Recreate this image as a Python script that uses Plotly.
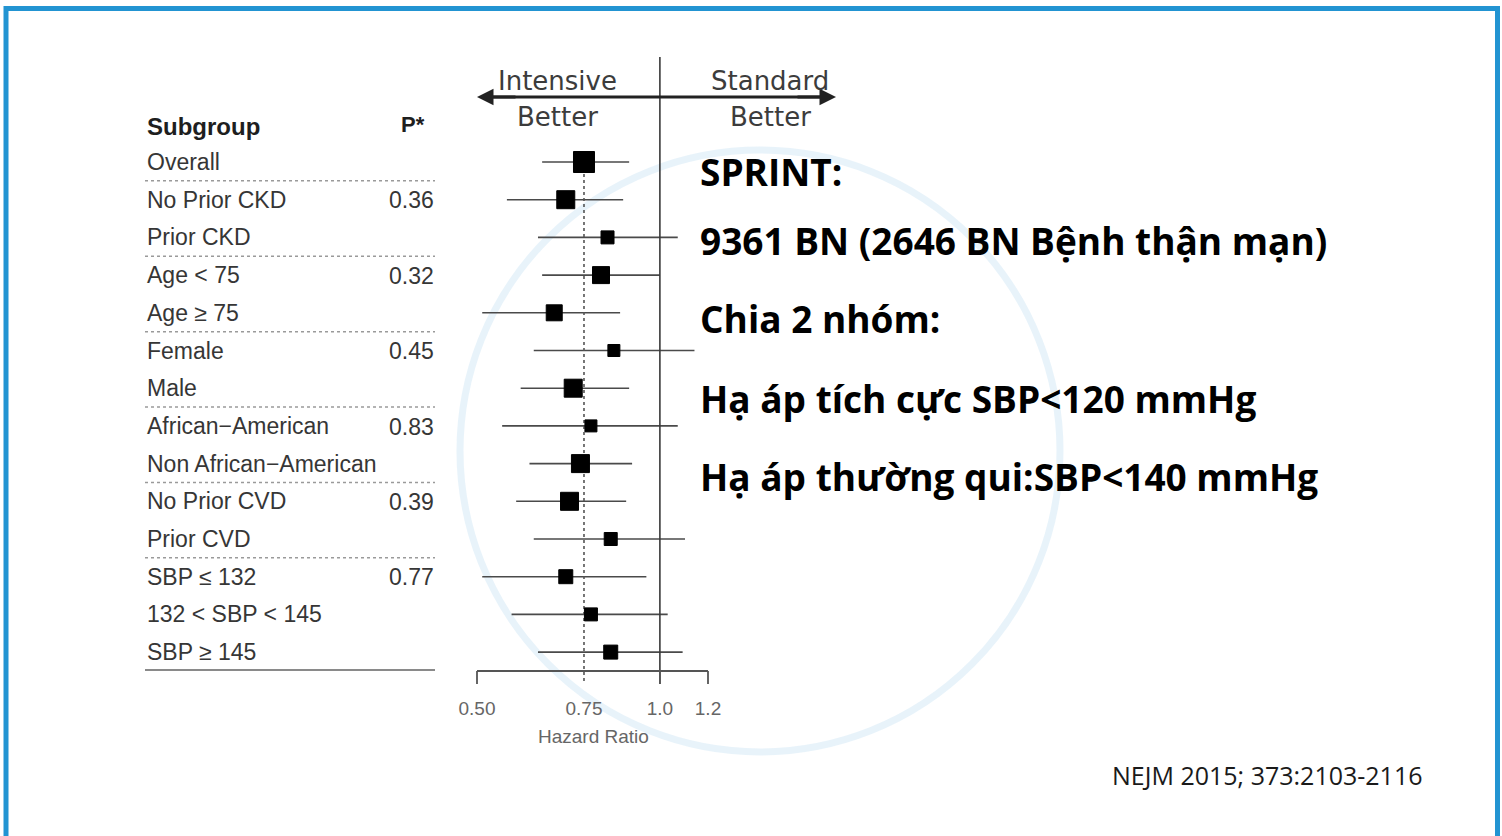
import math
import plotly.graph_objects as go

# ---------------- data ----------------
subgroups = ["Overall", "No Prior CKD", "Prior CKD", "Age < 75", "Age ≥ 75",
             "Female", "Male", "African−American", "Non African−American",
             "No Prior CVD", "Prior CVD", "SBP ≤ 132", "132 < SBP < 145", "SBP ≥ 145"]
p_values = ["", "0.36", "", "0.32", "", "0.45", "", "0.83", "", "0.39", "", "0.77", "", ""]
hazard_ratio = [0.75, 0.70, 0.82, 0.80, 0.67, 0.84, 0.72, 0.77, 0.74, 0.71, 0.83, 0.70, 0.77, 0.83]
ci_low = [0.64, 0.56, 0.63, 0.64, 0.51, 0.62, 0.59, 0.55, 0.61, 0.58, 0.62, 0.51, 0.57, 0.63]
ci_high = [0.89, 0.87, 1.07, 1.00, 0.86, 1.14, 0.89, 1.07, 0.90, 0.88, 1.10, 0.95, 1.03, 1.09]
box_weight = [21, 18, 13, 17, 16, 12, 18, 12, 18, 18, 13, 14, 13, 14]
group_breaks = [0, 2, 4, 6, 8, 10]   # dotted separator after these rows
tick_values = [0.50, 0.75, 1.0, 1.2]
tick_labels = ["0.50", "0.75", "1.0", "1.2"]
right_lines = ["SPRINT:", "9361 BN (2646 BN Bệnh thận mạn)", "Chia 2 nhóm:",
               "Hạ áp tích cực SBP<120 mmHg", "Hạ áp thường qui:SBP<140 mmHg"]
citation = "NEJM 2015; 373:2103-2116"

# ---------------- layout geometry ----------------
W, H = 1502, 836
PX_LO, PX_HI = 477, 708          # pixel positions of 0.50 and 1.2
K = (PX_HI - PX_LO) / (math.log10(1.2) - math.log10(0.5))
x_range = [math.log10(0.5) - PX_LO / K, math.log10(1.2) + (W - PX_HI) / K]
ROW0, ROWH = 162, 37.7
y_range = [(H - ROW0) / ROWH, -ROW0 / ROWH]


def yrow(py):
    return (py - ROW0) / ROWH


def hr_at(px):
    return 10 ** (math.log10(0.5) + (px - PX_LO) / K)


n = len(subgroups)
rows = list(range(n))
fig = go.Figure()

# watermark ring (faint)
fig.add_shape(type="circle", xref="paper", yref="paper",
              x0=460 / W, x1=1060 / W, y0=1 - 752 / H, y1=1 - 150 / H,
              line=dict(color="rgba(120,185,225,0.17)", width=7), layer="below")

# CI whiskers
wx, wy = [], []
for i in rows:
    wx += [ci_low[i], ci_high[i], None]
    wy += [i, i, None]
fig.add_trace(go.Scatter(x=wx, y=wy, mode="lines",
                         line=dict(color="#4a4a4a", width=1.6), hoverinfo="skip"))

# dotted line at overall HR
fig.add_trace(go.Scatter(x=[hazard_ratio[0], hazard_ratio[0]], y=[0, yrow(684)],
                         mode="lines", line=dict(color="#555", width=1.6, dash="dot"),
                         hoverinfo="skip"))
# solid line at HR = 1
fig.add_trace(go.Scatter(x=[1.0, 1.0], y=[yrow(57), yrow(684)], mode="lines",
                         line=dict(color="#3a3a3a", width=1.6), hoverinfo="skip"))

# axis bracket
ax_y = yrow(671)
bx, by = [0.5, 1.2, None], [ax_y, ax_y, None]
for t in tick_values:
    if t != hazard_ratio[0]:
        bx += [t, t, None]
        by += [ax_y, yrow(684), None]
fig.add_trace(go.Scatter(x=bx, y=by, mode="lines",
                         line=dict(color="#555", width=1.8), hoverinfo="skip"))
fig.add_trace(go.Scatter(x=tick_values, y=[yrow(710)] * len(tick_values), text=tick_labels,
                         mode="text", textposition="middle center",
                         textfont=dict(family="Liberation Sans", size=19, color="#666"),
                         hoverinfo="skip"))

# header arrow line
fig.add_trace(go.Scatter(x=[hr_at(482), hr_at(830)], y=[yrow(97)] * 2, mode="lines",
                         line=dict(color="#222", width=3), hoverinfo="skip"))

# boxes
fig.add_trace(go.Scatter(x=hazard_ratio, y=rows, mode="markers",
                         marker=dict(symbol="square", size=box_weight, color="#000000",
                                     opacity=1, line=dict(width=1, color="#000000")),
                         opacity=1, hoverinfo="x"))

fig.update_xaxes(type="log", range=x_range, domain=[0, 1], visible=False, fixedrange=True)
fig.update_yaxes(range=y_range, domain=[0, 1], visible=False, fixedrange=True)

ann = []
# arrow heads
for head_px, off in [(477, 40), (836, -40)]:
    ann.append(dict(x=head_px / W, y=1 - 97 / H, xref="paper", yref="paper",
                    ax=off, ay=0, text="", showarrow=True, arrowhead=2,
                    arrowsize=1.1, arrowwidth=3, arrowcolor="#222"))
hdr_font = dict(family="DejaVu Sans", size=26, color="#3c3c3c")
for txt, cx, cy in [("Intensive", 557, 81), ("Better", 557, 117),
                    ("Standard", 770, 81), ("Better", 770, 117)]:
    ann.append(dict(x=cx / W, y=1 - cy / H, xref="paper", yref="paper", text=txt,
                    showarrow=False, font=hdr_font, xanchor="center", yanchor="middle"))

# table
tbl_font = dict(family="Liberation Sans", size=23, color="#363636")
ann.append(dict(x=145 / W, y=yrow(126), xref="paper", yref="y", text="<b>Subgroup</b>",
                showarrow=False, xanchor="left", yanchor="middle",
                font=dict(family="Liberation Sans", size=24, color="#1e1e1e")))
ann.append(dict(x=427 / W, y=yrow(124), xref="paper", yref="y", text="<b>P*</b>",
                showarrow=False, xanchor="right", yanchor="middle",
                font=dict(family="Liberation Sans", size=22, color="#1e1e1e")))
for i in rows:
    ann.append(dict(x=145 / W, y=i, xref="paper", yref="y", text=subgroups[i],
                    showarrow=False, xanchor="left", yanchor="middle", font=tbl_font))
    if p_values[i]:
        ann.append(dict(x=436 / W, y=i + 0.02, xref="paper", yref="y", text=p_values[i],
                        showarrow=False, xanchor="right", yanchor="middle", font=tbl_font))

shapes = []
shapes.append(dict(type="line", xref="paper", yref="y", x0=145 / W, x1=435 / W,
                   y0=yrow(143), y1=yrow(143), line=dict(color="#8a8a8a", width=2)))
shapes.append(dict(type="line", xref="paper", yref="y", x0=145 / W, x1=435 / W,
                   y0=yrow(670), y1=yrow(670), line=dict(color="#8a8a8a", width=2)))
for b in group_breaks:
    shapes.append(dict(type="line", xref="paper", yref="y", x0=145 / W, x1=435 / W,
                       y0=b + 0.5, y1=b + 0.5,
                       line=dict(color="#9a9a9a", width=1.5, dash="dot")))

# right-hand text
for txt, cy in zip(right_lines, [171, 241, 319, 398, 476]):
    ann.append(dict(x=698 / W, y=1 - cy / H, xref="paper", yref="paper",
                    text="<b>" + txt + "</b>", showarrow=False, xanchor="left",
                    yanchor="middle",
                    font=dict(family="Open Sans", size=37, color="#000")))
ann.append(dict(x=1110 / W, y=1 - 775 / H, xref="paper", yref="paper", text=citation,
                showarrow=False, xanchor="left", yanchor="middle",
                font=dict(family="Open Sans", size=25, color="#1a1a1a")))
ann.append(dict(x=593 / W, y=1 - 736 / H, xref="paper", yref="paper", text="Hazard Ratio",
                showarrow=False, xanchor="center", yanchor="middle",
                font=dict(family="Liberation Sans", size=19, color="#666")))

# frame
shapes.append(dict(type="rect", xref="paper", yref="paper",
                   x0=6 / W, x1=1497.5 / W, y0=-0.05, y1=1 - 8.5 / H,
                   line=dict(color="#2294D2", width=5)))

fig.update_layout(width=W, height=H, margin=dict(l=0, r=0, t=0, b=0),
                  paper_bgcolor="white", plot_bgcolor="white", showlegend=False,
                  annotations=ann, shapes=shapes)
fig.write_html("out.html")
